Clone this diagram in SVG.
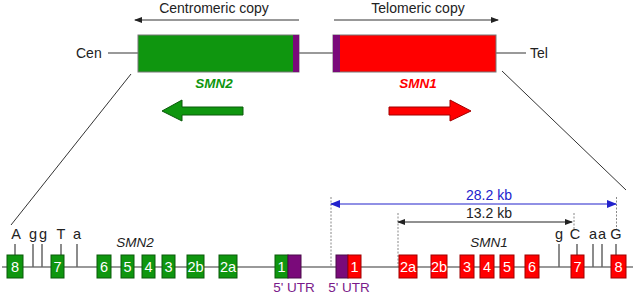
<svg xmlns="http://www.w3.org/2000/svg" width="635" height="294" viewBox="0 0 635 294">
<defs>
<marker id="ahk" markerWidth="8" markerHeight="8" refX="7" refY="4" orient="auto-start-reverse" markerUnits="userSpaceOnUse"><path d="M0,1 L8,4 L0,7 Z" fill="#222"/></marker>
<marker id="ahb" markerWidth="10" markerHeight="10" refX="9" refY="5" orient="auto-start-reverse" markerUnits="userSpaceOnUse"><path d="M0,1 L10,5 L0,9 Z" fill="#2222cc"/></marker>
<style>
text{font-family:"Liberation Sans",Arial,sans-serif;fill:#222;}
.t{font-size:14px;text-anchor:middle;}
.lab{font-size:14.5px;text-anchor:middle;}
.num{font-size:14.5px;fill:#fff;text-anchor:middle;}
.gx{fill:#0f960f;stroke:#0a5a0a;stroke-width:1;}
.rx{fill:#ff0000;stroke:#a00000;stroke-width:1;}
.px{fill:#7a0a7a;stroke:#4a0a4a;stroke-width:1;}
.ln{stroke:#777;stroke-width:1.5;fill:none;}
.tk{stroke:#666;stroke-width:1.5;}
.thin{stroke:#333;stroke-width:1;fill:none;}
.dot{stroke:#888;stroke-width:1;stroke-dasharray:2,1.5;}
.utr{font-size:13.5px;fill:#7a1a8a;text-anchor:middle;}
</style>
</defs>

<g id="labels-top">
<text class="t" x="214" y="13">Centromeric copy</text>
<text class="t" x="418" y="13">Telomeric copy</text>
<text x="76" y="58" style="font-size:14px">Cen</text>
<text x="530" y="58" style="font-size:14px">Tel</text>
</g>

<g id="connectors">
<line class="thin" x1="299" y1="20" x2="135" y2="20" marker-end="url(#ahk)"/>
<line class="thin" x1="334" y1="20" x2="498" y2="20" marker-end="url(#ahk)"/>
<line class="ln" x1="108" y1="53" x2="138" y2="53"/>
<line class="ln" x1="299" y1="53" x2="333" y2="53"/>
<line class="ln" x1="496" y1="53" x2="526" y2="53"/>
<line class="thin" x1="131" y1="74" x2="11" y2="225"/>
<line class="thin" x1="502" y1="71" x2="626" y2="190"/>
<line class="ln" x1="2" y1="267" x2="633" y2="267"/>
<line class="dot" x1="331" y1="197" x2="331" y2="267"/>
<line class="dot" x1="398" y1="213" x2="398" y2="267"/>
<line class="dot" x1="574" y1="213" x2="574" y2="229"/>
<line class="dot" x1="616.5" y1="197" x2="616.5" y2="229"/>
<line x1="331" y1="204" x2="616" y2="204" stroke="#2222cc" stroke-width="1.2" marker-start="url(#ahb)" marker-end="url(#ahb)"/>
<line x1="398" y1="222" x2="572" y2="222" stroke="#222" stroke-width="1" marker-start="url(#ahk)" marker-end="url(#ahk)"/>
</g>

<g id="SMN2-block">
<rect x="138" y="35" width="161" height="37" fill="#0f960f" stroke="#777" stroke-width="1"/>
<rect x="293" y="35" width="6" height="37" fill="#7a0a7a"/>
<text x="214" y="88" style="font-size:13.5px;font-weight:bold;font-style:italic;fill:#0f960f;text-anchor:middle">SMN2</text>
<path d="M243,107 L182,107 L182,100 L162,111 L182,121 L182,115 L243,115 Z" fill="#0f960f" stroke="#0a5a0a" stroke-width="1"/>
</g>

<g id="SMN1-block">
<rect x="333" y="35" width="163" height="37" fill="#ff0000" stroke="#777" stroke-width="1"/>
<rect x="333" y="35" width="7" height="37" fill="#7a0a7a"/>
<text x="418" y="88" style="font-size:13.5px;font-weight:bold;font-style:italic;fill:#ff0000;text-anchor:middle">SMN1</text>
<path d="M389,107 L450,107 L450,100 L471,111 L450,121 L450,115 L389,115 Z" fill="#ff0000" stroke="#a00000" stroke-width="1"/>
</g>

<g id="kb-labels">
<text x="489" y="200" style="font-size:14px;fill:#2222cc;text-anchor:middle">28.2 kb</text>
<text x="489" y="218" style="font-size:14px;text-anchor:middle">13.2 kb</text>
</g>

<g id="SMN2-gene">
<text x="135" y="247" style="font-size:13.5px;font-style:italic;text-anchor:middle">SMN2</text>
<line class="tk" x1="15" y1="244" x2="15" y2="255"/>
<line class="tk" x1="33" y1="244" x2="33" y2="267"/>
<line class="tk" x1="42" y1="244" x2="42" y2="267"/>
<line class="tk" x1="61" y1="244" x2="61" y2="255"/>
<line class="tk" x1="77" y1="244" x2="77" y2="267"/>
<text class="lab" x="16" y="239">A</text>
<text class="lab" x="33" y="239">g</text>
<text class="lab" x="43" y="239">g</text>
<text class="lab" x="61" y="239">T</text>
<text class="lab" x="77" y="239">a</text>
<g id="g8"><rect class="gx" x="7" y="255" width="16" height="23"/><text class="num" x="15" y="272">8</text></g>
<g id="g7"><rect class="gx" x="51" y="255" width="13" height="23"/><text class="num" x="57.5" y="272">7</text></g>
<g id="g6"><rect class="gx" x="97" y="255" width="14" height="23"/><text class="num" x="104" y="272">6</text></g>
<g id="g5"><rect class="gx" x="121" y="255" width="13" height="23"/><text class="num" x="127.5" y="272">5</text></g>
<g id="g4"><rect class="gx" x="142" y="255" width="13" height="23"/><text class="num" x="148.5" y="272">4</text></g>
<g id="g3"><rect class="gx" x="162" y="255" width="13" height="23"/><text class="num" x="168.5" y="272">3</text></g>
<g id="g2b"><rect class="gx" x="187" y="255" width="17" height="23"/><text class="num" x="195.5" y="272">2b</text></g>
<g id="g2a"><rect class="gx" x="219" y="255" width="18" height="23"/><text class="num" x="228" y="272">2a</text></g>
<g id="g1"><rect class="gx" x="275" y="255" width="13" height="23"/><rect class="px" x="288" y="255" width="13" height="23"/><text class="num" x="281.5" y="272">1</text></g>
<text class="utr" x="294" y="292">5' UTR</text>
</g>

<g id="SMN1-gene">
<text x="489" y="247" style="font-size:13.5px;font-style:italic;text-anchor:middle">SMN1</text>
<line class="tk" x1="559" y1="244" x2="559" y2="267"/>
<line class="tk" x1="577" y1="244" x2="577" y2="255"/>
<line class="tk" x1="593" y1="244" x2="593" y2="267"/>
<line class="tk" x1="602" y1="244" x2="602" y2="267"/>
<line class="tk" x1="616" y1="244" x2="616" y2="255"/>
<text class="lab" x="559" y="239">g</text>
<text class="lab" x="575" y="239">C</text>
<text class="lab" x="593" y="239">a</text>
<text class="lab" x="602" y="239">a</text>
<text class="lab" x="616" y="239">G</text>
<g id="r1"><rect class="px" x="336" y="255" width="12" height="23"/><rect class="rx" x="348" y="255" width="13" height="23"/><text class="num" x="354.5" y="272">1</text></g>
<text class="utr" x="349" y="292">5' UTR</text>
<g id="r2a"><rect class="rx" x="399" y="255" width="18" height="23"/><text class="num" x="408" y="272">2a</text></g>
<g id="r2b"><rect class="rx" x="431" y="255" width="16" height="23"/><text class="num" x="439" y="272">2b</text></g>
<g id="r3"><rect class="rx" x="460" y="255" width="14" height="23"/><text class="num" x="467" y="272">3</text></g>
<g id="r4"><rect class="rx" x="480" y="255" width="14" height="23"/><text class="num" x="487" y="272">4</text></g>
<g id="r5"><rect class="rx" x="500" y="255" width="14" height="23"/><text class="num" x="507" y="272">5</text></g>
<g id="r6"><rect class="rx" x="525" y="255" width="14" height="23"/><text class="num" x="532" y="272">6</text></g>
<g id="r7"><rect class="rx" x="571" y="255" width="13" height="23"/><text class="num" x="577.5" y="272">7</text></g>
<g id="r8"><rect class="rx" x="611" y="255" width="15" height="23"/><text class="num" x="618.5" y="272">8</text></g>
</g>
</svg>
